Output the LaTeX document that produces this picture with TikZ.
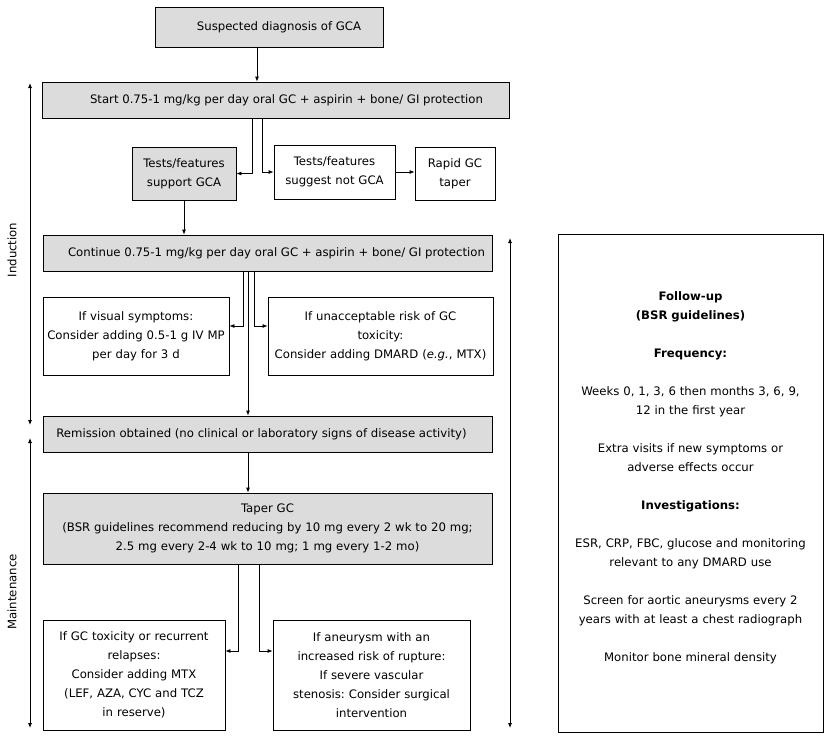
\documentclass[tikz,border=0pt]{standalone}
\usepackage{fontspec}
\setmainfont{DejaVu Sans}
\usetikzlibrary{arrows.meta}
\definecolor{boxgray}{RGB}{220,220,220}
\frenchspacing
\begin{document}
\begin{tikzpicture}[x=1pt,y=-1pt,
  every node/.style={font=\fontsize{11.7}{19}\selectfont},
  box/.style={draw, line width=0.8pt, align=center, inner sep=0pt},
  gbox/.style={box, fill=boxgray},
  arr/.style={-{Latex[length=5pt,width=4pt]}, line width=0.8pt},
  darr/.style={{Latex[length=5pt,width=4pt]}-{Latex[length=5pt,width=4pt]}, line width=0.8pt}]
\useasboundingbox (0,0) rectangle (831,740);

\node[gbox, minimum width=228pt, minimum height=40pt] (b1) at (269,27) {\hspace*{20pt}Suspected diagnosis of GCA};
\node[gbox, minimum width=467pt, minimum height=36pt] (b2) at (275.5,100) {\hspace*{22pt}Start 0.75-1 mg/kg per day oral GC + aspirin + bone/ GI protection};
\node[gbox, minimum width=104pt, minimum height=53pt, text width=100pt] (b3) at (184,173.5) {Tests/features\\support GCA};
\node[box, minimum width=121pt, minimum height=54pt, text width=117pt] (b4) at (334.5,172) {Tests/features\\suggest not GCA};
\node[box, minimum width=80pt, minimum height=53pt, text width=76pt] (b5) at (455,173.5) {Rapid GC\\taper};
\node[gbox, minimum width=449pt, minimum height=36pt] (b6) at (267.5,253) {\hspace*{18pt}Continue 0.75-1 mg/kg per day oral GC + aspirin + bone/ GI protection};
\node[box, minimum width=186pt, minimum height=78pt, text width=182pt] (b7) at (136,336) {If visual symptoms:\\Consider adding 0.5-1 g IV MP\\per day for 3 d};
\node[box, minimum width=225pt, minimum height=78pt, text width=221pt] (b8) at (380.5,336) {If unacceptable risk of GC\\toxicity:\\Consider adding DMARD (\emph{e.g.}, MTX)};
\node[gbox, minimum width=449pt, minimum height=36pt] (b9) at (267.5,434) {Remission obtained (no clinical or laboratory signs of disease activity)\hspace*{12pt}};
\node[gbox, minimum width=449pt, minimum height=71pt, text width=445pt] (b10) at (267.5,528.5) {Taper GC\\(BSR guidelines recommend reducing by 10 mg every 2 wk to 20 mg;\\2.5 mg every 2-4 wk to 10 mg; 1 mg every 1-2 mo)};
\node[box, minimum width=182pt, minimum height=110pt, text width=178pt] (b11) at (134,675) {If GC toxicity or recurrent\\relapses:\\Consider adding MTX\\(LEF, AZA, CYC and TCZ\\in reserve)};
\node[box, minimum width=197pt, minimum height=110pt, text width=193pt] (b12) at (371.5,675) {If aneurysm with an\\increased risk of rupture:\\If severe vascular\\stenosis: Consider surgical\\intervention};
\node[box, minimum width=265pt, minimum height=498pt] (b13) at (690.5,483) {};
\node[align=center, text width=258pt, inner sep=0pt] (fu) at (690.5,478) {\textbf{Follow-up}\\\textbf{(BSR guidelines)}\\[19pt]\textbf{Frequency:}\\[19pt]Weeks 0, 1, 3, 6 then months 3, 6, 9,\\12 in the first year\\[19pt]Extra visits if new symptoms or\\adverse effects occur\\[19pt]\textbf{Investigations:}\\[19pt]ESR, CRP, FBC, glucose and monitoring\\relevant to any DMARD use\\[19pt]Screen for aortic aneurysms every 2\\years with at least a chest radiograph\\[19pt]Monitor bone mineral density};

\node[rotate=90] (ind) at (12,250) {Induction};
\node[rotate=90] (mnt) at (12,592) {Maintenance};

\draw[arr] ([xshift=-12pt]b1.south) -- ([xshift=-12pt]b1.south |- b2.north);
\draw[arr] ([xshift=-23.5pt]b2.south) |- (b3.east);
\draw[arr] ([xshift=-13.5pt]b2.south) |- (b4.west);
\draw[arr] (b4.east) -- (b4.east -| b5.west);
\draw[arr] (b3.south) -- (b3.south |- b6.north);
\draw[arr] ([xshift=-24.5pt]b6.south) |- ([yshift=10pt]b7.east);
\draw[arr] ([xshift=-19.5pt]b6.south) -- ([xshift=-19.5pt]b6.south |- b9.north);
\draw[arr] ([xshift=-13.5pt]b6.south) |- ([yshift=10pt]b8.west);
\draw[arr] ([xshift=-19.5pt]b9.south) -- ([xshift=-19.5pt]b9.south |- b10.north);
\draw[arr] ([xshift=-29.5pt]b10.south) |- ([yshift=24pt]b11.east);
\draw[arr] ([xshift=-8.5pt]b10.south) |- ([yshift=24pt]b12.west);

\coordinate (i1) at (30,83);
\coordinate (i2) at (30,425);
\coordinate (m1) at (30,438);
\coordinate (m2) at (30,728);
\coordinate (r1) at (510,238);
\coordinate (r2) at (510,728);
\draw[darr] (i1) -- (i2);
\draw[darr] (m1) -- (m2);
\draw[darr] (r1) -- (r2);
\end{tikzpicture}
\end{document}
